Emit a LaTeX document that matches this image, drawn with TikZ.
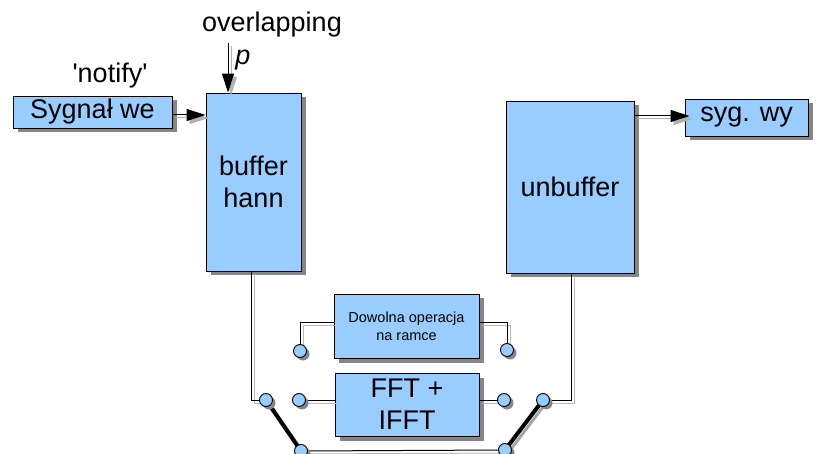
\documentclass[tikz,border=0pt]{standalone}
\usepackage{fontspec}
\setmainfont{Liberation Sans}[Ligatures=TeXOff]
\usetikzlibrary{arrows.meta,shadows,calc}
\definecolor{boxblue}{RGB}{153,204,255}
\tikzset{
  blk/.style={draw=black, line width=0.9pt, fill=boxblue, inner sep=0pt, align=center,
    font=\fontsize{27}{32}\selectfont,
    drop shadow={shadow xshift=4.5pt, shadow yshift=-4.5pt, opacity=1, fill=gray!95}},
  dot/.style={circle, draw=black, line width=0.9pt, fill=boxblue, minimum size=13pt, inner sep=0pt,
    drop shadow={shadow xshift=3pt, shadow yshift=-3pt, opacity=1, fill=gray!95}},
  conn/.style={draw=black, line width=1pt,
    preaction={draw=gray!55, line width=1pt, transform canvas={shift={(3,3)}}}},
  lever/.style={draw=black, line width=4pt,
    preaction={draw=gray!70, line width=3pt, transform canvas={shift={(3,3)}}}},
  arr/.style={draw=black, line width=1pt, -{Triangle[length=19pt,width=12pt]},
    preaction={draw=gray!60, line width=1pt, -{Triangle[length=19pt,width=12pt]}, transform canvas={shift={(3,3)}}}},
  lbl/.style={inner sep=0pt, anchor=base, font=\fontsize{27}{32}\selectfont}
}
\begin{document}
\begin{tikzpicture}[x=1pt,y=-1pt]
\useasboundingbox (0,0) rectangle (819,454);
% boxes
\node[blk, minimum width=159pt, minimum height=32pt] (sig) at (92.5,112) {Sygnał we};
\node[blk, minimum width=95pt, minimum height=178pt] (buf) at (253.5,182) {buffer\\hann};
\node[blk, minimum width=128pt, minimum height=172pt] (unbuf) at (570,187) {unbuffer};
\node[blk, minimum width=123pt, minimum height=37pt] (out) at (746.5,117.5) {syg. wy};
\node[blk, minimum width=145pt, minimum height=64pt, font=\fontsize{14.5}{18}\selectfont] (dow) at (406.5,326) {Dowolna operacja\\na ramce};
\node[blk, minimum width=144pt, minimum height=63pt] (fft) at (407,404.5) {FFT +\\IFFT};
% labels
\node[lbl] (notify) at (110,83) {'notify'};
\node[lbl] (overl) at (272,32) {overlapping};
\node[lbl, font=\fontsize{27}{32}\selectfont\itshape] (p) at (243,65) {p};
% coordinates for connectors
\coordinate (pl) at (266,400);
\coordinate (fl) at (299,400);
\coordinate (fr) at (504,400);
\coordinate (pr) at (543,400);
\coordinate (bl) at (301,451);
\coordinate (br) at (505,450);
\coordinate (dl) at (300,351);
\coordinate (dr) at (507,350);
\coordinate (a1) at ([yshift=-3pt]sig.east);
\coordinate (ovtop) at (228,43);
\coordinate (a2) at (634,116);
\coordinate (bufout) at ([xshift=-2.5pt]buf.south);
\coordinate (unbufin) at ([xshift=1pt]unbuf.south);
% connectors
\path[conn] (bufout) |- (pl);
\path[conn] (unbufin) |- (pr);
\path[conn] (bl) -- (br);
\path[conn] (fl) -- (fl -| fft.west);
\path[conn] (fr -| fft.east) -- (fr);
\path[conn] ([yshift=4pt]dow.west) -| (dl);
\path[conn] ([yshift=4pt]dow.east) -| (dr);
\path[lever] (pl) -- (bl);
\path[lever] (br) -- (pr);
% arrows
\path[arr] (a1) -- (a1 -| buf.west);
\path[arr] (ovtop) -- (ovtop |- buf.north);
\path[arr] (a2) -- ([xshift=5pt]a2 -| out.west);
% switch contacts
\node[dot] (cpl) at (pl) {};
\node[dot] (cfl) at (fl) {};
\node[dot] (cfr) at (fr) {};
\node[dot] (cpr) at (pr) {};
\node[dot] (cbl) at (bl) {};
\node[dot] (cbr) at (br) {};
\node[dot] (cdl) at (dl) {};
\node[dot] (cdr) at (dr) {};
\end{tikzpicture}
\end{document}
